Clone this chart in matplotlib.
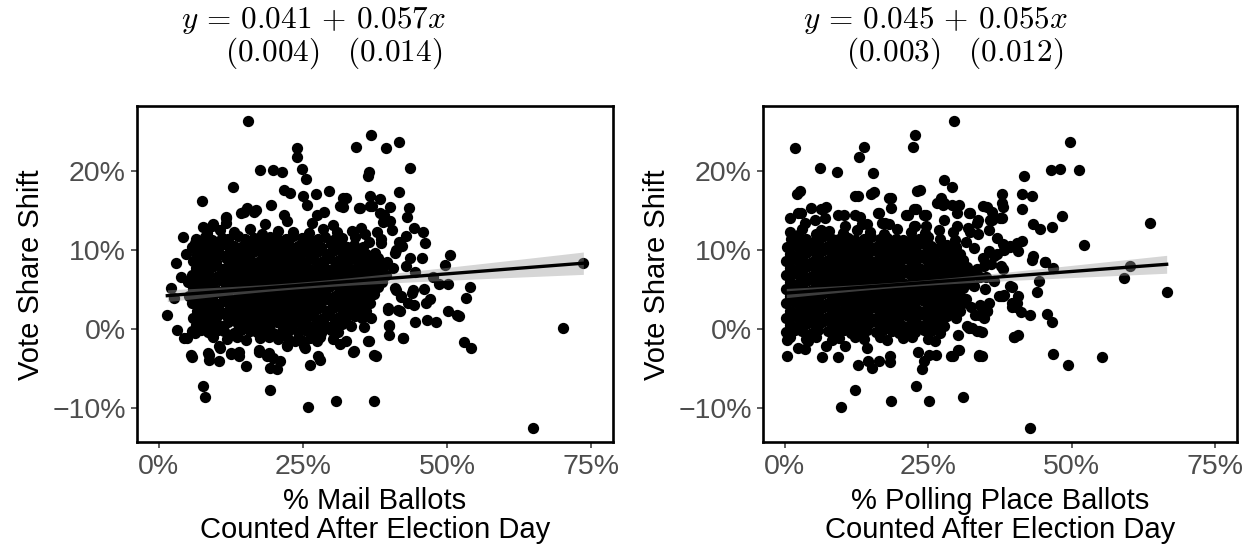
import numpy as np
import matplotlib
matplotlib.use("Agg")
import matplotlib.pyplot as plt
from matplotlib.ticker import FuncFormatter

plt.rcParams['font.family'] = ['Liberation Sans', 'DejaVu Sans']
plt.rcParams['mathtext.fontset'] = 'cm'

# ---- data (percent units) ----
# Panel 1: % mail ballots counted after election day vs vote share shift
mail_x = [
    # dense core
    8.4, 10.6, 13.1, 15.8, 17.9, 20.6, 23.2, 26.1, 28.4, 30.9, 33.5, 35.8,
    6.5, 8.1, 9.3, 10.9, 12.1, 13.7, 15.0, 16.5, 17.7, 19.3, 20.5, 22.1, 23.3, 24.9, 26.1, 27.7, 28.9, 30.5, 31.7, 34.1, 36.5, 38.6,
    5.8, 7.4, 8.6, 10.2, 11.4, 13.0, 14.2, 15.8, 17.0, 18.6, 19.8, 21.4, 22.6, 24.2, 25.4, 27.0, 28.2, 29.8, 31.0, 32.6, 33.8, 35.4,
    6.7, 7.9, 9.5, 10.7, 12.3, 13.5, 15.1, 16.3, 17.9, 19.1, 20.7, 21.9, 23.5, 24.7, 26.3, 27.5, 29.1, 30.3, 31.9, 33.1, 34.7, 35.9, 37.5,
    5.9, 7.2, 8.8, 10.0, 11.6, 12.8, 14.4, 15.6, 17.2, 18.4, 20.0, 21.2, 22.8, 24.0, 25.6, 26.8, 28.4, 29.6, 31.2, 32.4, 34.0, 35.2, 36.8, 38.0,
    6.5, 8.1, 9.3, 10.9, 12.1, 13.7, 14.9, 16.5, 17.7, 19.3, 20.5, 22.1, 23.3, 24.9, 26.1, 27.7, 28.9, 30.5, 31.7, 33.3, 34.5, 36.1, 37.3, 38.9,
    5.8, 7.4, 8.6, 10.2, 11.4, 13.0, 14.2, 15.8, 17.0, 18.6, 19.8, 21.4, 22.6, 24.2, 25.4, 27.0, 28.2, 29.8, 31.0, 32.6, 33.8, 35.4, 36.6, 38.2, 39.4,
    5.1, 6.7, 7.9, 9.5, 10.7, 12.3, 13.5, 15.1, 16.3, 17.9, 19.1, 20.7, 21.9, 23.5, 24.7, 26.3, 27.5, 29.1, 30.3, 31.9, 33.1, 34.7, 35.9, 37.5, 38.7,
    5.9, 7.2, 8.8, 10.0, 11.6, 12.8, 14.4, 15.6, 17.2, 18.4, 20.0, 21.2, 22.8, 24.0, 25.6, 26.8, 28.4, 29.6, 31.2, 32.4, 34.0, 35.2, 36.8, 38.0,
    5.2, 6.5, 8.1, 9.3, 10.9, 12.1, 13.7, 14.9, 16.5, 17.7, 19.3, 20.5, 22.1, 23.3, 24.9, 26.1, 27.7, 28.9, 30.5, 31.7, 33.3, 34.5, 36.1, 37.3,
    5.8, 7.4, 8.6, 10.2, 11.4, 13.0, 14.2, 15.8, 17.0, 18.6, 19.8, 21.4, 22.6, 24.2, 25.4, 27.0, 28.2, 29.8, 31.0, 32.6, 33.8, 35.4, 36.6,
    6.7, 7.9, 9.5, 10.7, 12.3, 13.5, 15.1, 16.3, 17.9, 19.1, 20.7, 21.9, 23.5, 24.7, 26.3, 27.5, 29.1, 30.3, 31.9, 33.1, 34.7, 35.9,
    5.9, 7.2, 8.8, 10.0, 11.6, 12.8, 14.4, 15.6, 17.2, 18.4, 20.0, 21.2, 22.8, 24.0, 25.6, 26.8, 28.4, 29.6, 31.2, 32.4, 34.0, 35.2,
    6.5, 8.1, 9.3, 10.9, 12.1, 13.7, 14.9, 16.5, 17.7, 19.3, 20.5, 22.1, 23.3, 24.9, 26.1, 27.7, 28.9, 30.5, 31.7, 33.3,
    8.6, 10.2, 11.4, 13.0, 14.2, 15.8, 17.0, 18.6, 19.8, 21.4, 22.6, 24.2, 25.4, 27.0, 28.2, 29.8, 31.0,
    9.5, 11.9, 13.5, 15.1, 17.5, 19.1, 20.7, 22.3, 24.7, 26.3, 27.9, 30.3, 32.5,
    # upper points
    15.4, 23.9, 23.9, 24.9, 25.6, 17.6, 19.9, 21.4, 12.9, 7.5, 21.7, 22.8, 25.0, 27.3, 29.5, 32.0, 32.0, 19.5, 15.3, 16.8, 14.2, 11.6, 11.6, 7.6, 9.3, 6.3,
    36.8, 34.2, 39.4, 41.7, 36.4, 36.2, 43.5, 41.7, 32.4, 36.7, 38.4, 43.3, 43.0, 40.1, 39.0, 40.1, 34.9, 37.0, 46.2, 45.6, 50.5, 49.7, 42.1, 41.0, 73.6,
    14.8, 16.5, 21.7, 22.3, 25.7, 27.5, 28.6, 31.5, 34.7, 36.7, 38.4, 39.9, 9.4, 11.6,
    35.0, 37.8, 40.5, 42.8, 44.3, 38.8, 18.5, 26.5, 30.2, 4.8, 4.2,
    # right of the core
    40.0, 42.3, 40.0, 39.7, 41.4, 41.1, 42.0, 43.2, 40.6, 42.9, 41.1, 41.7, 38.5, 44.5, 47.5, 45.8, 47.0, 48.0, 39.5, 43.5,
    # lower points
    3.9, 1.5, 3.2, 4.4, 5.8, 7.3, 5.8, 8.7, 8.7, 10.4, 10.7, 7.7, 8.1, 12.6, 13.9, 15.1, 19.3, 19.3, 20.5, 21.1, 17.4, 18.8, 19.9, 25.8, 30.8, 26.3, 28.0, 27.7, 25.4, 22.3, 23.7, 2.6,
    70.0, 64.9, 37.4, 52.9, 54.1, 50.1, 51.7, 52.0, 48.5, 50.2, 53.9, 53.2, 46.5, 44.5, 46.4, 44.2, 42.4, 40.0, 37.6, 33.9, 36.4, 39.8, 41.8, 42.0, 43.9, 44.0, 45.9, 41.0,
    4.9, 6.3, 9.2, 5.6, 8.5, 10.5, 12.5, 14.0, 17.4, 19.2, 22.3, 25.2, 27.5, 33.6, 36.2, 37.4, 31.5, 35.5, 36.8, 2.2, 3.0,
]
mail_y = [
    12.1, 12.5, 12.2, 12.6, 12.0, 12.4, 12.3, 12.1, 12.6, 12.2, 12.4, 12.0,
    11.3, 11.6, 11.2, 11.5, 11.4, 11.7, 11.3, 11.5, 11.2, 11.6, 11.4, 11.3, 11.7, 11.5, 11.2, 11.4, 11.6, 11.3, 11.5, 11.6, 11.0, 11.3,
    10.4, 10.6, 10.5, 10.3, 10.7, 10.5, 10.4, 10.6, 10.3, 10.5, 10.7, 10.4, 10.6, 10.5, 10.3, 10.6, 10.4, 10.7, 10.5, 10.3, 10.6, 10.4,
    9.5, 9.7, 9.6, 9.4, 9.8, 9.6, 9.5, 9.7, 9.4, 9.6, 9.8, 9.5, 9.7, 9.6, 9.4, 9.7, 9.5, 9.8, 9.6, 9.4, 9.7, 9.5, 9.6,
    8.6, 8.8, 8.7, 8.5, 8.9, 8.7, 8.6, 8.8, 8.5, 8.7, 8.9, 8.6, 8.8, 8.7, 8.5, 8.8, 8.6, 8.9, 8.7, 8.5, 8.8, 8.6, 8.7, 8.9,
    7.7, 7.9, 7.8, 7.6, 8.0, 7.8, 7.7, 7.9, 7.6, 7.8, 8.0, 7.7, 7.9, 7.8, 7.6, 7.9, 7.7, 8.0, 7.8, 7.6, 7.9, 7.7, 7.8, 8.0,
    6.8, 7.0, 6.9, 6.7, 7.1, 6.9, 6.8, 7.0, 6.7, 6.9, 7.1, 6.8, 7.0, 6.9, 6.7, 7.0, 6.8, 7.1, 6.9, 6.7, 7.0, 6.8, 6.9, 7.1, 6.8,
    5.9, 6.1, 6.0, 5.8, 6.2, 6.0, 5.9, 6.1, 5.8, 6.0, 6.2, 5.9, 6.1, 6.0, 5.8, 6.1, 5.9, 6.2, 6.0, 5.8, 6.1, 5.9, 6.0, 6.2, 5.9,
    5.0, 5.2, 5.1, 4.9, 5.3, 5.1, 5.0, 5.2, 4.9, 5.1, 5.3, 5.0, 5.2, 5.1, 4.9, 5.2, 5.0, 5.3, 5.1, 4.9, 5.2, 5.0, 5.1, 5.3,
    4.1, 4.3, 4.2, 4.0, 4.4, 4.2, 4.1, 4.3, 4.0, 4.2, 4.4, 4.1, 4.3, 4.2, 4.0, 4.3, 4.1, 4.4, 4.2, 4.0, 4.3, 4.1, 4.2, 4.4,
    3.2, 3.4, 3.3, 3.1, 3.5, 3.3, 3.2, 3.4, 3.1, 3.3, 3.5, 3.2, 3.4, 3.3, 3.1, 3.4, 3.2, 3.5, 3.3, 3.1, 3.4, 3.2, 3.3,
    2.3, 2.5, 2.4, 2.2, 2.6, 2.4, 2.3, 2.5, 2.2, 2.4, 2.6, 2.3, 2.5, 2.4, 2.2, 2.5, 2.3, 2.6, 2.4, 2.2, 2.5, 2.3,
    1.4, 1.6, 1.5, 1.3, 1.7, 1.5, 1.4, 1.6, 1.3, 1.5, 1.7, 1.4, 1.6, 1.5, 1.3, 1.6, 1.4, 1.7, 1.5, 1.3, 1.6, 1.4,
    0.5, 0.7, 0.6, 0.4, 0.8, 0.6, 0.5, 0.7, 0.4, 0.6, 0.8, 0.5, 0.7, 0.6, 0.4, 0.7, 0.5, 0.8, 0.6, 0.4,
    -0.4, -0.2, -0.3, -0.5, -0.1, -0.3, -0.4, -0.2, -0.5, -0.3, -0.1, -0.4, -0.2, -0.3, -0.5, -0.2, -0.4,
    -1.1, -1.3, -1.0, -1.4, -1.2, -1.0, -1.3, -1.1, -1.4, -1.2, -1.0, -1.3, -1.5,
    26.3, 22.9, 21.8, 20.2, 18.9, 20.1, 20.1, 19.8, 17.9, 16.2, 17.6, 17.2, 16.8, 17.1, 17.4, 16.6, 15.4, 15.7, 15.3, 15.0, 14.6, 14.1, 13.4, 12.9, 13.0, 10.8,
    24.5, 23.0, 22.9, 23.7, 19.8, 19.3, 20.3, 17.3, 16.5, 16.8, 16.4, 15.3, 14.2, 15.4, 14.4, 13.6, 15.3, 15.5, 10.8, 8.9, 9.3, 8.1, 10.5, 9.6, 8.3,
    14.8, 14.8, 14.4, 13.6, 15.7, 14.4, 14.8, 15.5, 15.3, 15.5, 14.6, 13.6, 13.2, 14.0,
    12.8, 12.2, 12.5, 11.8, 12.8, 13.5, 13.3, 13.4, 13.1, 9.5, 11.6,
    0.5, -1.2, -0.8, 2.6, 2.4, 4.9, 4.1, 3.3, 7.7, 7.9, 10.0, 11.0, 10.8, 7.2, 6.5, 12.2, 3.8, 0.8, 8.5, 9.0,
    6.6, 1.8, -0.1, -1.2, -0.3, -0.1, -3.6, -3.3, -3.9, -4.1, -2.4, -7.2, -8.7, -3.2, -3.5, -4.7, -7.8, -5.0, -5.1, -4.1, -2.9, -3.5, -3.7, -9.9, -9.2, -4.6, -3.9, -3.5, -2.4, -2.0, -1.6, 3.9,
    0.1, -12.6, -9.1, -1.7, -2.5, 2.3, 1.8, 1.6, 5.7, 5.6, 5.3, 3.9, 1.1, 0.9, 3.3, 3.0, -1.2, 0.4, -3.4, -2.8, -1.6, 2.4, 2.3, 4.0, 4.5, 4.9, 5.0, 5.1,
    -1.2, -0.5, -0.8, -3.3, -3.1, -2.2, -3.1, -2.9, -2.7, -3.1, -2.2, -2.2, -1.6, -2.9, -1.6, -3.3, -1.9, 0.2, 1.4, 5.2, 8.3,
]

# Panel 2: % polling place ballots counted after election day vs vote share shift
poll_x = [
    # dense core
    0.9, 3.1, 5.4, 7.8, 10.1, 12.6, 14.8, 17.3, 19.5, 22.0, 24.4, 26.9, 29.3,
    1.2, 2.6, 3.8, 5.4, 6.6, 8.2, 9.4, 11.0, 12.2, 13.8, 15.0, 16.6, 17.8, 19.4, 20.6, 22.2, 23.4, 25.0, 27.1, 29.6,
    0.4, 1.9, 3.1, 4.7, 5.9, 7.5, 8.7, 10.3, 11.5, 13.1, 14.3, 15.9, 17.1, 18.7, 19.9, 21.5, 22.7, 24.3, 25.5, 27.1, 28.3, 29.9,
    1.0, 2.6, 3.8, 5.4, 6.6, 8.2, 9.4, 11.0, 12.2, 13.8, 15.0, 16.6, 17.8, 19.4, 20.6, 22.2, 23.4, 25.0, 26.2, 27.8, 29.0, 30.6,
    0.3, 1.9, 3.1, 4.7, 5.9, 7.5, 8.7, 10.3, 11.5, 13.1, 14.3, 15.9, 17.1, 18.7, 19.9, 21.5, 22.7, 24.3, 25.5, 27.1, 28.3, 29.9, 31.1,
    1.0, 2.6, 3.8, 5.4, 6.6, 8.2, 9.4, 11.0, 12.2, 13.8, 15.0, 16.6, 17.8, 19.4, 20.6, 22.2, 23.4, 25.0, 26.2, 27.8, 29.0, 30.6, 31.8,
    0.3, 1.9, 3.1, 4.7, 5.9, 7.5, 8.7, 10.3, 11.5, 13.1, 14.3, 15.9, 17.1, 18.7, 19.9, 21.5, 22.7, 24.3, 25.5, 27.1, 28.3, 29.9, 31.1, 32.6,
    1.0, 2.6, 3.8, 5.4, 6.6, 8.2, 9.4, 11.0, 12.2, 13.8, 15.0, 16.6, 17.8, 19.4, 20.6, 22.2, 23.4, 25.0, 26.2, 27.8, 29.0, 30.6, 31.8,
    0.3, 1.9, 3.1, 4.7, 5.9, 7.5, 8.7, 10.3, 11.5, 13.1, 14.3, 15.9, 17.1, 18.7, 19.9, 21.5, 22.7, 24.3, 25.5, 27.1, 28.3, 29.9, 31.1,
    1.0, 2.6, 3.8, 5.4, 6.6, 8.2, 9.4, 11.0, 12.2, 13.8, 15.0, 16.6, 17.8, 19.4, 20.6, 22.2, 23.4, 25.0, 26.2, 27.8, 29.0, 30.6,
    0.3, 1.9, 3.1, 4.7, 5.9, 7.5, 8.7, 10.3, 11.5, 13.1, 14.3, 15.9, 17.1, 18.7, 19.9, 21.5, 22.7, 24.3, 25.5, 27.1, 28.3, 29.9, 31.1,
    1.0, 2.6, 3.8, 5.4, 6.6, 8.2, 9.4, 11.0, 12.2, 13.8, 15.0, 16.6, 17.8, 19.4, 20.6, 22.2, 23.4, 25.0, 26.2, 27.8, 29.0, 30.6,
    0.3, 1.9, 3.1, 4.7, 5.9, 7.5, 8.7, 10.3, 11.5, 13.1, 14.3, 15.9, 17.1, 18.7, 19.9, 21.5, 22.7, 24.3, 25.5, 27.1, 28.3, 29.9,
    1.0, 2.6, 3.8, 5.4, 6.6, 8.2, 9.4, 11.0, 12.2, 13.8, 15.0, 16.6, 17.8, 19.4, 20.6, 22.2, 23.4, 25.0, 26.2, 27.8,
    0.3, 1.9, 3.1, 4.7, 5.9, 7.5, 8.7, 10.3, 11.5, 13.1, 14.3, 15.9, 17.1, 18.7, 19.9, 21.5, 22.7, 24.3, 25.5, 27.1,
    1.0, 3.8, 5.4, 8.2, 9.4, 12.2, 13.8, 16.6, 17.8, 20.6, 22.2, 25.0, 26.2,
    # upper points
    29.5, 1.8, 22.7, 22.4, 13.8, 12.9, 6.2, 9.2, 15.4, 2.6, 12.8, 15.5, 18.6, 18.5, 23.5, 27.8, 29.1, 27.2, 27.5, 30.4,
    32.1, 2.3, 2.9, 4.6, 7.2, 16.4, 16.9, 18.2, 21.5, 22.9, 24.7, 22.7, 24.7, 10.3, 13.2, 14.3,
    49.7, 46.4, 47.9, 51.2, 41.6, 37.8, 41.4, 43.0, 41.3, 38.0, 37.9, 35.3, 36.1, 36.1, 33.6, 33.7, 48.3, 43.3, 44.5, 46.5,
    63.6, 52.2, 41.3, 39.3, 38.2, 37.0, 43.3, 45.4, 60.1,
    2.1, 12.2, 15.0, 18.2, 23.1, 27.7, 29.2, 30.0, 32.3, 34.6, 35.8, 37.5, 37.8,
    2.4, 3.6, 5.3, 6.4, 7.0, 9.3, 12.2, 13.4, 16.2, 17.4, 21.1, 22.6, 24.3, 22.6, 26.6, 27.7, 30.0, 32.3, 33.5, 6.4, 10.5,
    # right of the core
    38.1, 39.3, 40.4, 40.7, 36.4, 37.6, 35.5, 34.7, 34.1, 32.9, 39.3, 37.3, 38.1, 40.4, 39.6, 32.4, 34.1, 35.3, 33.2, 34.7,
    31.8, 33.5, 30.1, 39.9, 33.8, 30.1, 28.9,
    31.5, 33.0, 34.5, 36.0, 33.5, 35.0, 32.8, 34.8, 36.5, 38.0, 31.5, 37.0, 35.5, 32.0, 1.0, 3.5,
    # lower points
    66.5, 59.0, 55.3, 49.3, 46.8, 42.8, 34.3, 34.3, 39.9, 40.7, 45.7, 46.6, 42.7, 41.2, 39.6, 40.7, 43.9, 44.2, 37.6, 38.2,
    39.6, 40.2, 35.6, 35.3, 33.9, 32.7, 43.0, 45.3, 46.8,
    9.8, 12.2, 18.6, 22.8, 25.1, 31.0, 0.5, 0.5, 6.6, 9.3, 12.7, 14.6, 15.2, 16.5, 18.4, 18.4, 14.3, 23.2, 24.3, 23.9,
    29.3, 30.4, 26.4, 25.2, 33.9, 32.1, 33.9, 2.3, 4.0, 7.2, 10.6,
]
poll_y = [
    12.2, 12.6, 12.0, 12.4, 12.1, 12.5, 12.2, 12.0, 12.6, 12.3, 12.1, 12.5, 12.2,
    11.3, 11.5, 11.4, 11.2, 11.6, 11.4, 11.3, 11.5, 11.2, 11.4, 11.6, 11.3, 11.5, 11.4, 11.2, 11.5, 11.3, 11.6, 11.4, 11.2,
    10.4, 10.6, 10.5, 10.3, 10.7, 10.5, 10.4, 10.6, 10.3, 10.5, 10.7, 10.4, 10.6, 10.5, 10.3, 10.6, 10.4, 10.7, 10.5, 10.3, 10.6, 10.4,
    9.5, 9.7, 9.6, 9.4, 9.8, 9.6, 9.5, 9.7, 9.4, 9.6, 9.8, 9.5, 9.7, 9.6, 9.4, 9.7, 9.5, 9.8, 9.6, 9.4, 9.7, 9.5,
    8.6, 8.8, 8.7, 8.5, 8.9, 8.7, 8.6, 8.8, 8.5, 8.7, 8.9, 8.6, 8.8, 8.7, 8.5, 8.8, 8.6, 8.9, 8.7, 8.5, 8.8, 8.6, 8.7,
    7.7, 7.9, 7.8, 7.6, 8.0, 7.8, 7.7, 7.9, 7.6, 7.8, 8.0, 7.7, 7.9, 7.8, 7.6, 7.9, 7.7, 8.0, 7.8, 7.6, 7.9, 7.7, 7.8,
    6.8, 7.0, 6.9, 6.7, 7.1, 6.9, 6.8, 7.0, 6.7, 6.9, 7.1, 6.8, 7.0, 6.9, 6.7, 7.0, 6.8, 7.1, 6.9, 6.7, 7.0, 6.8, 6.9, 7.1,
    5.9, 6.1, 6.0, 5.8, 6.2, 6.0, 5.9, 6.1, 5.8, 6.0, 6.2, 5.9, 6.1, 6.0, 5.8, 6.1, 5.9, 6.2, 6.0, 5.8, 6.1, 5.9, 6.0,
    5.0, 5.2, 5.1, 4.9, 5.3, 5.1, 5.0, 5.2, 4.9, 5.1, 5.3, 5.0, 5.2, 5.1, 4.9, 5.2, 5.0, 5.3, 5.1, 4.9, 5.2, 5.0, 5.1,
    4.1, 4.3, 4.2, 4.0, 4.4, 4.2, 4.1, 4.3, 4.0, 4.2, 4.4, 4.1, 4.3, 4.2, 4.0, 4.3, 4.1, 4.4, 4.2, 4.0, 4.3, 4.1,
    3.2, 3.4, 3.3, 3.1, 3.5, 3.3, 3.2, 3.4, 3.1, 3.3, 3.5, 3.2, 3.4, 3.3, 3.1, 3.4, 3.2, 3.5, 3.3, 3.1, 3.4, 3.2, 3.3,
    2.3, 2.5, 2.4, 2.2, 2.6, 2.4, 2.3, 2.5, 2.2, 2.4, 2.6, 2.3, 2.5, 2.4, 2.2, 2.5, 2.3, 2.6, 2.4, 2.2, 2.5, 2.3,
    1.4, 1.6, 1.5, 1.3, 1.7, 1.5, 1.4, 1.6, 1.3, 1.5, 1.7, 1.4, 1.6, 1.5, 1.3, 1.6, 1.4, 1.7, 1.5, 1.3, 1.6, 1.4,
    0.5, 0.7, 0.6, 0.4, 0.8, 0.6, 0.5, 0.7, 0.4, 0.6, 0.8, 0.5, 0.7, 0.6, 0.4, 0.7, 0.5, 0.8, 0.6, 0.4,
    -0.4, -0.2, -0.3, -0.5, -0.1, -0.3, -0.4, -0.2, -0.5, -0.3, -0.1, -0.4, -0.2, -0.3, -0.5, -0.2, -0.4, -0.1, -0.3, -0.5,
    -1.1, -1.3, -1.0, -1.4, -1.2, -1.0, -1.3, -1.1, -1.4, -1.2, -1.0, -1.3, -1.5,
    26.3, 22.9, 24.5, 23.0, 23.0, 21.8, 20.3, 19.8, 19.7, 17.4, 16.8, 17.3, 16.5, 15.3, 17.6, 18.8, 17.9, 16.5, 15.7, 15.7,
    14.7, 11.9, 14.6, 15.3, 15.4, 14.6, 13.4, 13.2, 14.4, 15.1, 14.4, 13.0, 13.0, 14.4, 14.2, 13.2,
    23.7, 20.1, 20.2, 20.1, 19.3, 17.1, 17.1, 16.8, 15.2, 15.4, 14.0, 15.4, 14.8, 13.8, 13.8, 12.0, 14.3, 13.3, 12.6, 12.9,
    13.4, 10.6, 11.1, 10.5, 10.0, 9.4, 9.2, 8.5, 7.9,
    17.1, 16.8, 17.1, 16.5, 17.4, 15.9, 15.7, 14.7, 14.7, 15.5, 13.8, 14.0, 15.9,
    14.6, 13.4, 13.8, 15.1, 14.0, 14.4, 14.4, 13.2, 14.6, 13.4, 14.4, 15.1, 14.4, 13.0, 15.9, 13.8, 13.0, 12.2, 13.4, 12.5, 13.0,
    10.7, 10.3, 10.9, 9.8, 9.2, 7.9, 9.8, 7.9, 6.6, 5.4, 5.4, 4.1, 4.1, 3.2, 2.8, 2.8, 3.0, 2.2, 1.8, 1.4,
    0.3, -0.3, -0.8, -1.0, -3.3, -2.7, -3.5,
    11.0, 10.2, 9.0, 8.2, 7.5, 6.5, 5.5, 5.0, 6.0, 7.5, 3.8, 11.5, 12.5, 12.8, 14.0, -2.6,
    4.7, 6.4, -3.6, -4.6, -3.2, -12.6, -3.4, -0.4, -1.1, -0.8, 1.9, 0.9, 1.8, 2.1, 5.3, 4.1, 4.6, 6.0, 4.2, 4.3,
    3.3, 2.8, 3.3, 2.2, 1.8, 0.1, 8.7, 8.5, 7.7,
    -9.9, -7.8, -9.2, -7.2, -9.1, -8.7, -3.4, -1.4, -3.6, -3.6, -4.6, -4.1, -5.0, -4.1, -3.5, -4.2, -2.4, -3.0, -4.1, -5.1,
    -3.5, -2.7, -3.3, -3.3, -3.5, 0.1, -0.3, -2.4, -1.6, -2.2, -2.2,
]

# regression results shown in the panel titles: intercept, slope and their SEs
mail_fit = [0.041, 0.057]
mail_se = [0.004, 0.014]
poll_fit = [0.045, 0.055]
poll_se = [0.003, 0.012]

assert len(mail_x) == len(mail_y), (len(mail_x), len(mail_y))
assert len(poll_x) == len(poll_y), (len(poll_x), len(poll_y))

x_ticks = [0, 25, 50, 75]
y_ticks = [-10, 0, 10, 20]
panels = [
    (mail_x, mail_y, mail_fit, mail_se, "% Mail Ballots\nCounted After Election Day"),
    (poll_x, poll_y, poll_fit, poll_se, "% Polling Place Ballots\nCounted After Election Day"),
]

fig = plt.figure(figsize=(12.56, 5.49), dpi=100)
axes = [fig.add_axes([0.1091, 0.194, 0.379, 0.613]),
        fig.add_axes([0.6075, 0.194, 0.3774, 0.613])]

pct = FuncFormatter(lambda v, pos: f"{v:.0f}%".replace("-", "\u2212"))

for ax, (xs, ys, fit, se, xlabel) in zip(axes, panels):
    xs = np.array(xs)
    ys = np.array(ys)
    ax.scatter(xs, ys, s=66, color="black", linewidths=0, zorder=2)

    # fitted line and 95% band from the reported coefficients
    xbar = xs.mean() / 100
    xg = np.linspace(xs.min(), xs.max(), 200) / 100
    var0 = max(se[0] ** 2 - (xbar * se[1]) ** 2, 1e-7)
    band = 1.96 * np.sqrt(var0 + ((xg - xbar) * se[1]) ** 2)
    fitted = fit[0] + fit[1] * xg
    ax.fill_between(xg * 100, (fitted - band) * 100, (fitted + band) * 100,
                    color="#999999", alpha=0.4, linewidth=0, zorder=3)
    ax.plot(xg * 100, fitted * 100, color="black", linewidth=2.4, zorder=4)

    ax.set_xlim(-3.75, 78.75)
    ax.set_ylim(-14.4, 28.2)
    ax.set_xticks(x_ticks)
    ax.set_yticks(y_ticks)
    ax.xaxis.set_major_formatter(pct)
    ax.yaxis.set_major_formatter(pct)
    ax.tick_params(axis="both", labelsize=20.5, labelcolor="#4D4D4D",
                   color="#333333", length=4, width=1.1, pad=4)
    for sp in ax.spines.values():
        sp.set_linewidth(1.9)
        sp.set_color("black")
    ax.set_ylabel("Vote Share Shift", fontsize=21, labelpad=5)
    ax.set_xlabel(xlabel, fontsize=21, labelpad=5, linespacing=1.05)

# equation titles
fig.text(0.2496, 0.962, r"$y\,=\,0.041\,+\,0.057x$", ha="center", va="center", fontsize=22.5)
fig.text(0.2655, 0.903, r"$(0.004)\quad(0.014)$", ha="center", va="center", fontsize=22.5)
fig.text(0.7445, 0.962, r"$y\,=\,0.045\,+\,0.055x$", ha="center", va="center", fontsize=22.5)
fig.text(0.7600, 0.903, r"$(0.003)\quad(0.012)$", ha="center", va="center", fontsize=22.5)

fig.savefig("out.png", dpi=100)
